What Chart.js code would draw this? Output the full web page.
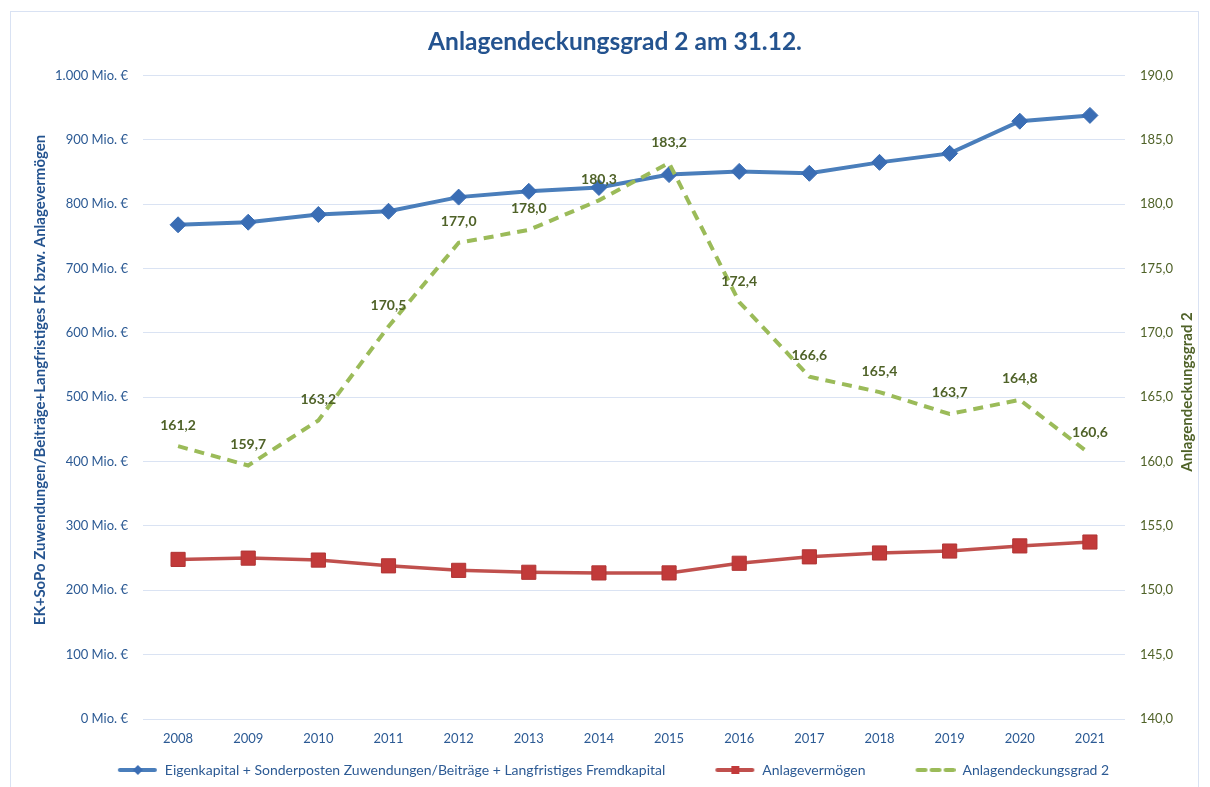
<!DOCTYPE html>
<html>
<head>
<meta charset="utf-8">
<script src="https://cdn.jsdelivr.net/npm/chart.js@4"></script>
<style>
body{margin:0;background:#fff;}
#frame{position:absolute;left:10px;top:11px;width:1189px;height:800px;border:1px solid #d9e2f3;box-sizing:border-box;}
#wrap{position:absolute;left:0;top:0;width:1210px;height:787px;}
</style>
</head>
<body>
<div id="frame"></div>
<div id="wrap"><canvas id="mainChart"></canvas></div>
<script>
// ================= DATA =================
let years = ["2008","2009","2010","2011","2012","2013","2014","2015","2016","2017","2018","2019","2020","2021"]
let ekFk = [768,772,784,789,811,820,826,846,851,848,865,879,929,938]
let anlageVerm = [248,250,247,238,231,228,227,227,242,252,258,261,269,275]
let deckung = [161.2,159.7,163.2,170.5,177.0,178.0,180.3,183.2,172.4,166.6,165.4,163.7,164.8,160.6]
let seriesNames = [
"Eigenkapital + Sonderposten Zuwendungen/Beiträge + Langfristiges Fremdkapital",
"Anlagevermögen",
"Anlagendeckungsgrad 2"
]
let chartTitle = "Anlagendeckungsgrad 2 am 31.12."
let leftTitle = "EK+SoPo Zuwendungen/Beiträge+Langfristiges FK bzw. Anlagevermögen"
let rightTitle = "Anlagendeckungsgrad 2"

// ================= COLORS =================
let blue = "#4a7ebb"
let blueMark = "#3a6db4"
let red = "#c0504d"
let redMark = "#c23a3a"
let green = "#9bbb59"
let olive = "#4f6228"
let axisBlue = "#2c5a94"
let titleBlue = "#24538f"
let gridCol = "#dae3f3"
let fontName = "Lato, 'Open Sans', sans-serif"

// ================= LEGEND ICONS =================
function makeIcon(kind){
let c = document.createElement("canvas")
c.width = 80
c.height = 16
let g = c.getContext("2d")
let x0 = 40, x1 = 79, y = 8
g.lineCap = "round"
if(kind==="blue"){
g.strokeStyle = blue; g.lineWidth = 4
g.beginPath(); g.moveTo(x0+2,y); g.lineTo(x1-2,y); g.stroke()
g.fillStyle = blueMark
g.beginPath(); g.moveTo(60,y-5); g.lineTo(65,y); g.lineTo(60,y+5); g.lineTo(55,y); g.closePath(); g.fill()
}
if(kind==="red"){
g.strokeStyle = red; g.lineWidth = 4
g.beginPath(); g.moveTo(x0+2,y); g.lineTo(x1-2,y); g.stroke()
g.fillStyle = redMark
g.fillRect(56,y-4,8,8)
}
if(kind==="green"){
g.strokeStyle = green; g.lineWidth = 4
g.setLineDash([8,6])
g.beginPath(); g.moveTo(x0+2,y); g.lineTo(x1,y); g.stroke()
}
return c
}
let icons = [makeIcon("blue"), makeIcon("red"), makeIcon("green")]

// ================= FORMAT =================
function fmtMio(v){
let s = String(v)
if(v>=1000) s = s.slice(0,s.length-3)+"."+s.slice(-3)
return s+" Mio. €"
}
function fmtDe(v){
return Number(v).toFixed(1).replace(".",",")
}

// ================= LABEL PLUGIN =================
let valueLabels = {
id:"valueLabels",
afterDatasetsDraw(chart){
let meta = chart.getDatasetMeta(2)
let ctx = chart.ctx
ctx.save()
ctx.font = "bold 14px "+fontName
ctx.fillStyle = olive
ctx.textAlign = "center"
ctx.textBaseline = "middle"
meta.data.forEach((p,i)=>{
ctx.fillText(fmtDe(deckung[i]), p.x, p.y-21)
})
ctx.restore()
}
}

// 🔥 title + axis titles (axis titles read bottom-to-top)
let axisTitles = {
id:"axisTitles",
afterDraw(chart){
let ctx = chart.ctx
ctx.save()
ctx.textAlign = "center"
ctx.textBaseline = "middle"
ctx.font = "bold 24.5px "+fontName
ctx.fillStyle = titleBlue
ctx.fillText(chartTitle,615,42)
ctx.restore()

ctx.save()
ctx.font = "bold 15px "+fontName
ctx.textAlign = "center"
ctx.textBaseline = "middle"
ctx.translate(40,380)
ctx.rotate(-Math.PI/2)
ctx.fillStyle = titleBlue
ctx.fillText(leftTitle,0,0)
ctx.restore()

ctx.save()
ctx.font = "bold 15px "+fontName
ctx.textAlign = "center"
ctx.textBaseline = "middle"
ctx.translate(1187,392)
ctx.rotate(-Math.PI/2)
ctx.fillStyle = olive
ctx.fillText(rightTitle,0,0)
ctx.restore()
}
}

// ================= CHART =================
let ctx = document.getElementById("mainChart")

new Chart(ctx,{
type:"line",
data:{
labels:years,
datasets:[
{
label:seriesNames[0],
data:ekFk,
yAxisID:"y",
borderColor:blue,
borderWidth:4,
pointStyle:"rectRot",
pointRadius:8,
pointBackgroundColor:blueMark,
pointBorderColor:blueMark,
pointBorderWidth:1,
order:1
},
{
label:seriesNames[1],
data:anlageVerm,
yAxisID:"y",
borderColor:red,
borderWidth:3.5,
pointStyle:"rect",
pointRadius:10,
pointBackgroundColor:redMark,
pointBorderColor:"#b03535",
pointBorderWidth:1,
order:2
},
{
label:seriesNames[2],
data:deckung,
yAxisID:"y1",
borderColor:green,
borderWidth:4,
borderDash:[10,7],
pointRadius:0,
order:0
}
]
},
plugins:[valueLabels,axisTitles],
options:{
responsive:true,
maintainAspectRatio:false,
animation:false,
events:[],
layout:{padding:{left:8,right:31,top:75.5,bottom:0}},
plugins:{
title:{display:false},
legend:{
position:"bottom",
labels:{
usePointStyle:true,
pointStyleWidth:80,
boxHeight:13,
padding:10,
color:axisBlue,
font:{family:fontName,size:14},
sort:(a,b)=>a.datasetIndex-b.datasetIndex,
generateLabels(chart){
let items = Chart.defaults.plugins.legend.labels.generateLabels(chart)
items.forEach(it=>{ it.pointStyle = icons[it.datasetIndex] })
return items
}
}
},
tooltip:{enabled:false}
},
scales:{
x:{
offset:true,
grid:{display:false,drawTicks:false},
border:{display:false},
ticks:{color:axisBlue,padding:12,font:{family:fontName,size:13}},
afterFit(s){ s.height = 34 }
},
y:{
position:"left",
min:0,max:1000,
grid:{color:gridCol,lineWidth:1,drawTicks:false},
border:{display:false},
ticks:{stepSize:100,color:axisBlue,padding:15,font:{family:fontName,size:13},callback:v=>fmtMio(v)},
afterFit(s){ s.width = 135 }
},
y1:{
position:"right",
min:140,max:190,
grid:{display:false,drawTicks:false},
border:{display:false},
ticks:{stepSize:5,color:olive,padding:15,font:{family:fontName,size:13},callback:v=>fmtDe(v)},
afterFit(s){ s.width = 54 }
}
}
}
})
</script>
</body>
</html>
